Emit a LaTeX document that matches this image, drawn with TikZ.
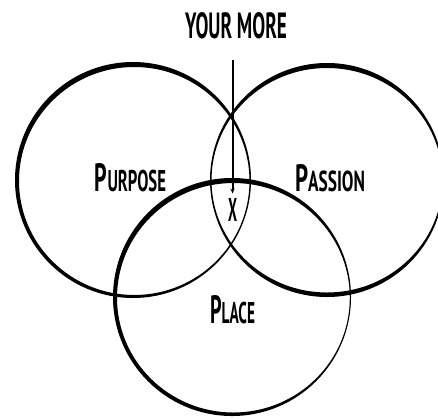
\documentclass[tikz,border=0pt]{standalone}
\usepackage{fontspec}
\setmainfont{PT Sans}
\usepackage{graphicx}
\usetikzlibrary{arrows.meta,positioning}

\newcommand\capword[2]{#1\scalebox{0.76}{#2}}

\begin{document}
\begin{tikzpicture}[
  x=1pt,y=-1pt,
  ring/.style={fill=black,even odd rule},
  word/.style={inner sep=0pt,outer sep=0pt,font=\bfseries},
  pointer/.style={line width=2pt,-{Stealth[length=5pt,width=4pt]}}
]
  \useasboundingbox (0,0) rectangle (438,418);
  \clip (0,0) rectangle (438,418);

  % brush-like rings: outer circle minus shifted inner ellipse
  \fill[ring] (133,180) circle (118pt) (134.25,181) ellipse (115.25pt and 114pt);
  \fill[ring] (327,180) circle (117pt) (327,180.25) ellipse (115.5pt and 112.25pt);
  \fill[ring] (232,297) circle (119pt) (233.4,297.75) ellipse (116.4pt and 114.75pt);

  \node[word] (title) at (236,26) {\resizebox{102pt}{26pt}{YOUR MORE}};
  \node[word] (purpose) at (130.5,178) {\resizebox{71pt}{28pt}{\capword{P}{URPOSE}}};
  \node[word] (passion) at (330,178.5) {\resizebox{70pt}{27pt}{\capword{P}{ASSION}}};
  \node[word] (place) at (232.5,310) {\resizebox{45pt}{28pt}{\capword{P}{LACE}}};
  \node[word] (mark) at (232.5,210) {\resizebox{9pt}{23pt}{X}};

  \draw[pointer,shorten <=21pt,shorten >=5pt] (title.south -| mark) -- (mark.north);
\end{tikzpicture}
\end{document}
